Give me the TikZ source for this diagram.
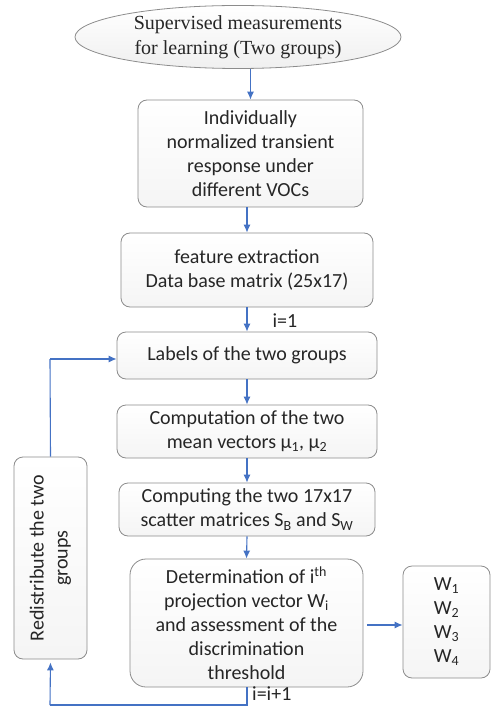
\documentclass[tikz,border=0pt]{standalone}
\usepackage{fontspec}
\setmainfont{Carlito}
\newfontfamily\serifface{Liberation Serif}
\usetikzlibrary{arrows.meta,shapes.geometric}
\definecolor{arrblue}{HTML}{4472C4}
\definecolor{boxline}{HTML}{8C8C8C}
\definecolor{txt}{HTML}{262626}
\tikzset{
  flowbox/.style={draw=boxline, line width=0.8pt, rounded corners=9pt, top color=white, bottom color=black!4,
    align=center, text=txt, font=\fontsize{20}{24}\selectfont, inner sep=2pt},
  arr/.style={draw=arrblue, line width=1.1pt, -{Latex[length=8pt,width=7pt]}},
  ln/.style={draw=arrblue, line width=1.1pt},
  lbl/.style={text=txt, font=\fontsize{20}{24}\selectfont, inner sep=1pt}
}
\begin{document}
\begin{tikzpicture}[x=1pt,y=-1pt]
\useasboundingbox (0,0) rectangle (491,708);
\node[ellipse, draw=boxline, line width=0.8pt, top color=white, bottom color=black!6,
  minimum width=326pt, minimum height=63pt, inner sep=0pt, align=center, text=txt,
  font=\serifface\fontsize{20}{25}\selectfont] (ell) at (238,37)
  {Supervised measurements\\for learning (Two groups)};
\node[flowbox, minimum width=225pt, minimum height=107pt] (b2) at (250.5,153.5)
  {Individually\\normalized transient\\response under\\different VOCs};
\node[flowbox, minimum width=252pt, minimum height=74pt] (b3) at (247,270)
  {feature extraction\\Data base matrix (25x17)};
\node[flowbox, minimum width=260pt, minimum height=47pt] (b4) at (247,355.5)
  {Labels of the two groups};
\node[flowbox, minimum width=260pt, minimum height=53pt] (b5) at (247,431.5)
  {Computation of the two\\mean vectors μ\textsubscript{1}, μ\textsubscript{2}};
\node[flowbox, minimum width=256pt, minimum height=53pt] (b6) at (247,509.5)
  {Computing the two 17x17\\scatter matrices S\textsubscript{B} and S\textsubscript{W}};
\node[flowbox, minimum width=233pt, minimum height=128pt, rounded corners=16pt] (b7) at (246.5,623)
  {Determination of i\textsuperscript{th}\\projection vector W\textsubscript{i}\\and assessment of the\\discrimination\\threshold};
\node[flowbox, minimum width=87pt, minimum height=112pt] (bw) at (446.5,622)
  {W\textsubscript{1}\\W\textsubscript{2}\\W\textsubscript{3}\\W\textsubscript{4}};
\node[flowbox, minimum width=202pt, minimum height=73pt, rotate=90] (br) at (50.5,558)
  {Redistribute the two\\groups};
% arrows
\draw[arr] (ell.south -| b2.north) -- (b2.north);
\draw[arr] (b2.south -| b3.north) -- (b3.north);
\draw[arr] (b3.south) -- node[lbl, anchor=west, xshift=24pt, yshift=-1pt] {i=1} (b4.north);
\draw[arr] (b4.south) -- (b5.north);
\draw[arr] (b5.south) -- (b6.north);
\draw[arr] (b6.south) -- (b7.north);
\draw[arr, shorten <=4pt] (b7.east |- 0,625) -- (bw.west |- 0,625);
\coordinate (lb) at (247,705);
\coordinate (lc) at (50,705);
\coordinate (tc) at (50,359);
\draw[ln] (b7.south -| lb) -- (lb) -- (lc);
\draw[arr, shorten >=3pt] (lc) -- (br.west);
\node[lbl, anchor=north west] (ilbl) at (251,686) {i=i+1};
\draw[ln] (br.east) -- (tc);
\draw[arr] (tc) -- (b4.west |- tc);
\end{tikzpicture}
\end{document}
